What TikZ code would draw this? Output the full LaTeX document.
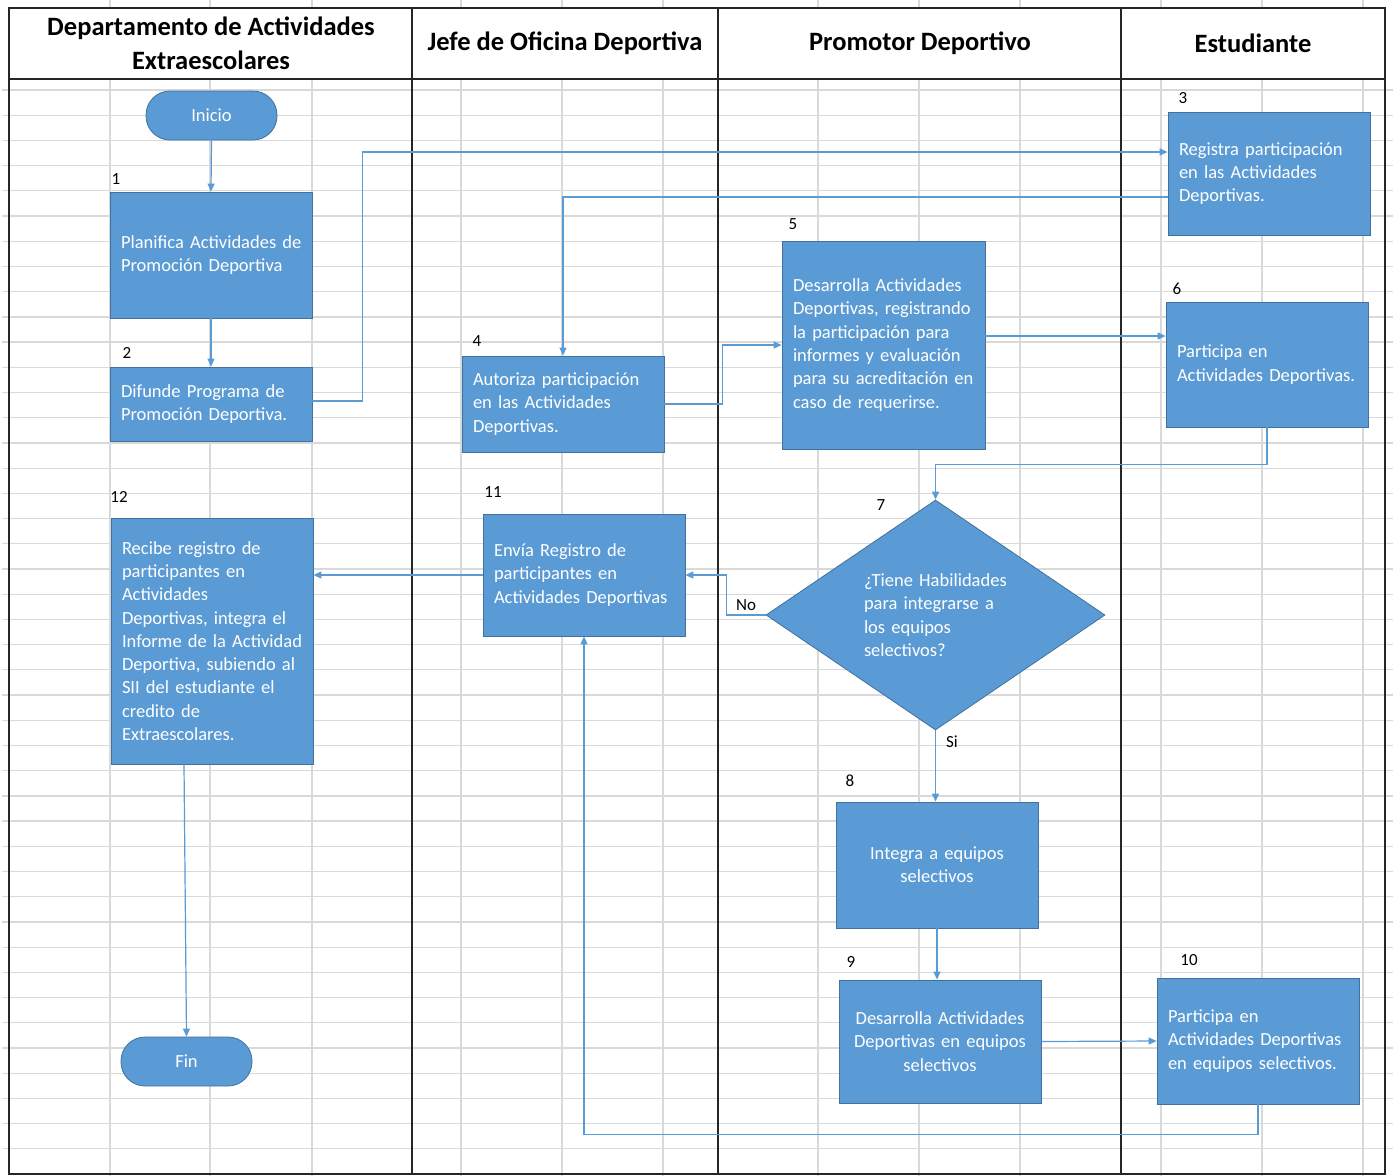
\documentclass[tikz,border=0pt]{standalone}
\usepackage{fontspec}
\setmainfont{Carlito}
\usetikzlibrary{arrows.meta,shapes.geometric,calc}

\definecolor{boxblue}{HTML}{5B9BD5}
\definecolor{boxedge}{HTML}{41719C}
\definecolor{cellgray}{HTML}{D9D9D9}
\newcommand{\boxfont}{\fontsize{18.5}{23.3}\selectfont}
\newcommand{\numfont}{\fontsize{17}{20}\selectfont}

\begin{document}
\begin{tikzpicture}[x=1pt,y=-1pt,
    cellline/.style={draw=cellgray, line width=1.3pt},
    lane/.style={draw=black!85, line width=1.6pt},
    head/.style={font=\fontsize{26.5}{34}\selectfont\bfseries, align=center, inner sep=0pt},
    box/.style={draw=boxedge, line width=0.8pt, fill=boxblue, text=white, font=\boxfont,
        text width=180pt, inner xsep=11pt, inner ysep=0pt, align=left},
    term/.style={draw=boxedge, line width=0.8pt, fill=boxblue, text=white, font=\boxfont,
        minimum width=131pt, minimum height=49pt, rounded corners=24pt},
    flow/.style={draw=boxblue, line width=1.2pt, -{Triangle[length=8pt,width=7pt]}},
    num/.style={font=\numfont, inner sep=0pt}]
    \useasboundingbox (0,0) rectangle (1393,1176);
    \fill[white] (0,0) rectangle (1393,1176);

    % cuadricula de la hoja
    \foreach \i in {0,...,42}
        \draw[cellline] (2,{90+25.21*\i}) -- (1393,{90+25.21*\i});
    \foreach \x in {110,210,312,461,562,663,818,919,1020,1161,1262,1363} {
        \draw[cellline] (\x,0) -- (\x,8);
        \draw[cellline] (\x,80) -- (\x,1176);
    }

    % carriles
    \draw[lane] (9,8) rectangle (1385,1174);
    \draw[lane] (9,79) -- (1385,79);
    \foreach \x in {412,718,1121}
        \draw[lane] (\x,8) -- (\x,1174);

    \node[head] (h1) at (211,43) {Departamento de Actividades\\Extraescolares};
    \node[head] (h2) at (565,43) {Jefe de Oficina Deportiva};
    \node[head] (h3) at (920,43) {Promotor Deportivo};
    \node[head] (h4) at (1253,43) {Estudiante};

    % pasos
    \node[term] (inicio) at (211.5,115.5) {Inicio};
    \node[box, minimum height=126pt] (p1) at (211,255) {\mbox{Planifica Actividades de}\\Promoción Deportiva};
    \node[box, minimum height=74pt] (p2) at (211,404) {Difunde Programa de\\Promoción Deportiva.};
    \node[box, minimum height=123pt] (p3) at (1269,173.5) {Registra participación\\en las Actividades\\Deportivas.};
    \node[box, minimum height=96pt] (p4) at (563,404) {Autoriza participación\\en las Actividades\\Deportivas.};
    \node[box, minimum height=208pt, text width=181pt] (p5) at (883.5,345) {Desarrolla Actividades\\Deportivas, registrando\\la participación para\\informes y evaluación\\para su acreditación en\\caso de requerirse.};
    \node[box, minimum height=125pt] (p6) at (1267,364.5) {Participa en\\Actividades Deportivas.};
    \node[diamond, draw=boxedge, line width=0.8pt, fill=boxblue, text=white, font=\boxfont,
        text width=143pt, align=left, inner sep=0pt, aspect=1.47,
        minimum width=339pt, minimum height=230pt] (d7) at (935.5,615)
        {¿Tiene Habilidades\\para integrarse a\\los equipos\\selectivos?};
    \node[box, minimum height=126pt, align=center] (p8) at (937,865) {Integra a equipos\\selectivos};
    \node[box, minimum height=123pt, align=center] (p9) at (940,1041.5) {Desarrolla Actividades\\Deportivas en equipos\\selectivos};
    \node[box, minimum height=126pt] (p10) at (1258,1041) {Participa en\\Actividades Deportivas\\en equipos selectivos.};
    \node[box, minimum height=122pt] (p11) at (584,575) {Envía Registro de\\participantes en\\Actividades Deportivas};
    \node[box, minimum height=246pt] (p12) at (212,641) {Recibe registro de\\participantes en\\Actividades\\Deportivas, integra el\\Informe de la Actividad\\Deportiva, subiendo al\\SII del estudiante el\\credito de\\Extraescolares.};
    \node[term] (fin) at (186.5,1061.5) {Fin};

    % numeros
    \node[num] (n1) at (116,179) {1};
    \node[num] (n2) at (127,353) {2};
    \node[num] (n3) at (1183,98) {3};
    \node[num] (n4) at (477,341) {4};
    \node[num] (n5) at (793,224) {5};
    \node[num] (n6) at (1177,289) {6};
    \node[num] (n7) at (881,505) {7};
    \node[num] (n8) at (850,781) {8};
    \node[num] (n9) at (851,962) {9};
    \node[num] (n10) at (1189,960) {10};
    \node[num] (n11) at (493,492) {11};
    \node[num] (n12) at (119,497) {12};

    % conectores
    \draw[flow] (inicio.south) -- (p1.north);
    \draw[flow] (p1.south) -- (p2.north);
    \draw[flow] ([yshift=3pt]p2.east) -- ++(50,0) |- ([yshift=21.5pt]p3.west);
    \draw[flow] ([yshift=-23.5pt]p3.west) -| (p4.north);
    \draw[flow] (p4.east) -- ++(58,0) |- (p5.west);
    \draw[flow] ([yshift=9pt]p5.east) -- ([yshift=28.5pt]p6.west);
    \draw[flow] (p6.south) -- ++(0,37) -| (d7.north);
    \draw[flow] (d7.west) -- node[num, above=4pt] (lno) {No} ++(-39,0) |- (p11.east);
    \draw[flow] (d7.south) -- node[num, pos=0.16, right=10pt] (lsi) {Si} (d7.south |- p8.north);
    \draw[flow] (p8.south) -- (p8.south |- p9.north);
    \draw[flow] (p9.east) -- (p10.west);
    \draw[flow] (p10.south) -- ++(0,30) -| (p11.south);
    \draw[flow] (p11.west) -- (p11.west -| p12.east);
    \draw[flow] ([xshift=-28pt]p12.south) -- (fin.north);
\end{tikzpicture}
\end{document}
